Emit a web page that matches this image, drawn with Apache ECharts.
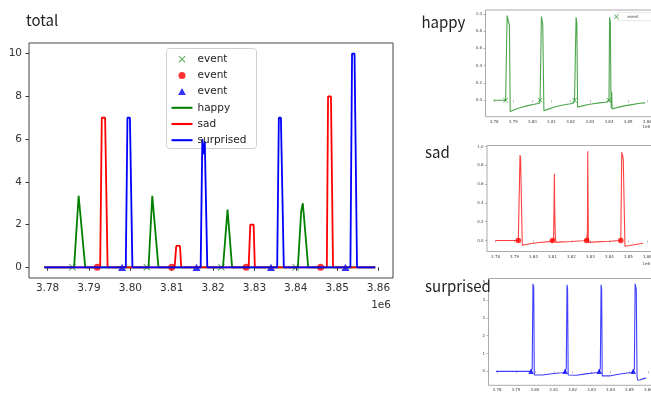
<!DOCTYPE html>
<html><head><meta charset="utf-8">
<script src="https://cdn.jsdelivr.net/npm/echarts@6/dist/echarts.min.js"></script>
<style>html,body{margin:0;padding:0;background:#fff}#c{width:651px;height:397px}</style>
</head><body><div id="c"></div>
<script>
// ---------- data ----------
const xTicks = [3.78e6, 3.79e6, 3.80e6, 3.81e6, 3.82e6, 3.83e6, 3.84e6, 3.85e6, 3.86e6];
const totalYTicks = [0, 2, 4, 6, 8, 10];
const unitYTicks = [0, 0.2, 0.4, 0.6, 0.8, 1.0];
const surprisedYTicks = [0, 1, 2, 3, 4, 5];

const happyEventX = [3.786e6, 3.804e6, 3.822e6, 3.840e6];
const sadEventX = [3.792e6, 3.810e6, 3.828e6, 3.846e6];
const surprisedEventX = [3.798e6, 3.816e6, 3.834e6, 3.852e6];
const eventY = [0, 0, 0, 0];

// total panel
const happyTotalX = [3.7792e6, 3.7864e6, 3.7875e6, 3.7879e6, 3.7891e6, 3.8044e6, 3.8053e6, 3.8057e6, 3.8068e6,
  3.8224e6, 3.8235e6, 3.8246e6, 3.8405e6, 3.8413e6, 3.8417e6, 3.8430e6, 3.8592e6];
const happyTotalY = [0, 0, 3.35, 3.35, 0, 0, 3.35, 3.3, 0, 0, 2.7, 0, 0, 2.6, 3.0, 0, 0];
const sadTotalX = [3.7792e6, 3.7927e6, 3.7931e6, 3.7939e6, 3.7945e6, 3.8107e6, 3.8111e6, 3.8120e6, 3.8123e6,
  3.8286e6, 3.8290e6, 3.8298e6, 3.8301e6, 3.8475e6, 3.8478e6, 3.8485e6, 3.8490e6, 3.8592e6];
const sadTotalY = [0, 0, 7, 7, 0, 0, 1, 1, 0, 0, 2, 2, 0, 0, 8, 8, 0, 0];
const surprisedTotalX = [3.7792e6, 3.7989e6, 3.7993e6, 3.7999e6, 3.8005e6, 3.8170e6, 3.8174e6, 3.8177e6, 3.8180e6, 3.8186e6,
  3.8355e6, 3.8359e6, 3.8364e6, 3.8371e6, 3.8532e6, 3.8536e6, 3.8542e6, 3.8548e6, 3.8592e6];
const surprisedTotalY = [0, 0, 7, 7, 0, 0, 6, 5.3, 5.9, 0, 0, 7, 7, 0, 0, 10, 10, 0, 0];

// happy panel
const happyX = [3.7796e6, 3.7860e6, 3.7866e6, 3.7868e6, 3.7876e6, 3.7880e6, 3.7884e6,
  3.7900e6, 3.7930e6, 3.7970e6, 3.8010e6, 3.8036e6, 3.8040e6, 3.8045e6, 3.8047e6, 3.8054e6, 3.8060e6,
  3.8080e6, 3.8120e6, 3.8160e6, 3.8200e6, 3.8216e6, 3.8220e6, 3.8224e6, 3.8228e6, 3.8232e6, 3.8236e6,
  3.8260e6, 3.8300e6, 3.8350e6, 3.8388e6, 3.8400e6, 3.8401e6, 3.8403e6, 3.8407e6, 3.8410e6, 3.8412e6, 3.8414e6, 3.8416e6,
  3.8440e6, 3.8480e6, 3.8520e6, 3.8560e6, 3.8589e6];
const happyY = [0, 0, 0.02, 0.98, 0.90, 0.87, -0.13,
  -0.115, -0.09, -0.065, -0.045, -0.035, 0.0, 0.02, 0.97, 0.88, -0.12,
  -0.105, -0.075, -0.055, -0.04, -0.03, 0.0, 0.02, 0.96, 0.90, -0.08,
  -0.065, -0.045, -0.03, -0.02, 0.0, 0.02, 0.96, 0.90, 0.10, -0.09, 0.10, -0.10,
  -0.085, -0.065, -0.05, -0.035, -0.03];

// sad panel
const sadX = [3.7799e6, 3.7920e6, 3.7926e6, 3.7929e6, 3.7932e6, 3.7934e6, 3.7941e6,
  3.7980e6, 3.8030e6, 3.8080e6, 3.8098e6, 3.8100e6, 3.8106e6, 3.8108e6, 3.8110e6, 3.8112e6, 3.8115e6, 3.8117e6,
  3.8150e6, 3.8200e6, 3.8260e6, 3.8280e6, 3.8283e6, 3.8284e6, 3.8286e6, 3.8289e6,
  3.8330e6, 3.8400e6, 3.8460e6, 3.8462e6, 3.8465e6, 3.8470e6, 3.8473e6, 3.8482e6,
  3.8500e6, 3.8530e6, 3.8560e6, 3.8577e6];
const sadY = [0, 0, 0.02, 0.91, 0.88, 0.87, -0.05,
  -0.035, -0.022, -0.012, -0.005, 0.0, 0.02, 0.33, 0.71, 0.30, 0.05, -0.02,
  -0.015, -0.01, -0.003, 0.0, 0.07, 0.0, 0.95, -0.02,
  -0.015, -0.008, 0.0, 0.02, 0.94, 0.90, 0.86, -0.06,
  -0.055, -0.045, -0.035, -0.03];

// surprised panel
const surprisedX = [3.7794e6, 3.7980e6, 3.7986e6, 3.7990e6, 3.7994e6, 3.7997e6, 3.8002e6,
  3.8040e6, 3.8090e6, 3.8140e6, 3.8155e6, 3.8160e6, 3.8166e6, 3.8170e6, 3.8173e6, 3.8176e6, 3.8180e6,
  3.8220e6, 3.8270e6, 3.8320e6, 3.8336e6, 3.8340e6, 3.8346e6, 3.8350e6, 3.8353e6, 3.8356e6, 3.8360e6,
  3.8400e6, 3.8450e6, 3.8500e6, 3.8515e6, 3.8520e6, 3.8526e6, 3.8530e6, 3.8536e6, 3.8540e6, 3.8544e6,
  3.8555e6, 3.8570e6, 3.8588e6];
const surprisedY = [0, 0, 0.15, 4.9, 4.7, -0.2, -0.27,
  -0.2, -0.13, -0.08, -0.06, 0.0, 0.15, 4.85, 4.6, -0.2, -0.3,
  -0.22, -0.14, -0.08, -0.06, 0.0, 0.15, 4.85, 4.6, -0.25, -0.35,
  -0.25, -0.15, -0.08, -0.06, 0.0, 0.15, 4.9, 4.6, -0.3, -0.5,
  -0.48, -0.42, -0.38];

// ---------- chart ----------
const zip = (xs, ys) => xs.map((x, i) => [x, ys[i]]);
const X_PATH = 'path://M0,1L1,0L5,4L9,0L10,1L6,5L10,9L9,10L5,6L1,10L0,9L4,5Z';
const TRI_PATH = 'path://M5,0L10,9L0,9Z';
const LINE_ICON = 'path://M0,0h20v2h-20z';
const GREEN = '#008000', RED = '#ff0000', BLUE = '#0000ff';
const MONO = 'DejaVu Sans';
const TITLE_FONT = 'Noto Sans CJK JP';

function xAxis(gi, small) {
  return {
    type: 'value', gridIndex: gi, min: 3.7755e6, max: 3.8635e6,
    axisLine: { show: false },
    splitLine: { show: false },
    axisTick: { show: true, customValues: xTicks, length: small ? 2 : 3.5,
      lineStyle: { color: small ? '#888' : '#333', width: small ? 0.6 : 1 } },
    axisLabel: { customValues: xTicks, margin: small ? 3 : 5, hideOverlap: false,
      fontFamily: MONO, fontSize: small ? 4 : 10.5, color: small ? '#444' : '#333',
      formatter: v => (v / 1e6).toFixed(2) }
  };
}
function yAxis(gi, min, max, ticks, dec, small) {
  return {
    type: 'value', gridIndex: gi, min: min, max: max,
    axisLine: { show: false },
    splitLine: { show: false },
    axisTick: { show: true, customValues: ticks, length: small ? 2 : 3.5,
      lineStyle: { color: small ? '#888' : '#333', width: small ? 0.6 : 1 } },
    axisLabel: { customValues: ticks, margin: small ? 3.5 : 7,
      fontFamily: MONO, fontSize: small ? 4 : 10.5, color: small ? '#444' : '#333',
      formatter: v => v.toFixed(dec) }
  };
}
const gridBase = { show: true, backgroundColor: 'transparent', containLabel: false, outerBoundsMode: 'none' };

const titleStyle = { fontFamily: TITLE_FONT, fontSize: 15, fontWeight: 'normal', color: '#222' };

const chart = echarts.init(document.getElementById('c'), null, { renderer: 'canvas' });
chart.setOption({
  animation: false,
  backgroundColor: '#fff',
  title: [
    { text: 'total', left: 26, top: 12.8, padding: 0, textStyle: titleStyle },
    { text: 'happy', left: 421.5, top: 15.1, padding: 0, textStyle: titleStyle },
    { text: 'sad', left: 425, top: 145.1, padding: 0, textStyle: titleStyle },
    { text: 'surprised', left: 425, top: 279.1, padding: 0, textStyle: titleStyle }
  ],
  grid: [
    Object.assign({ left: 29, top: 43, width: 364, height: 235, borderColor: '#444', borderWidth: 1 }, gridBase),
    Object.assign({ left: 485.5, top: 10, width: 168.5, height: 106.7, borderColor: '#aaa', borderWidth: 1 }, gridBase),
    Object.assign({ left: 487, top: 145.5, width: 167, height: 106, borderColor: '#aaa', borderWidth: 1 }, gridBase),
    Object.assign({ left: 488.5, top: 278.5, width: 166.5, height: 106.8, borderColor: '#aaa', borderWidth: 1 }, gridBase)
  ],
  xAxis: [xAxis(0, false), xAxis(1, true), xAxis(2, true), xAxis(3, true)],
  yAxis: [
    yAxis(0, -0.5, 10.5, totalYTicks, 0, false),
    yAxis(1, -0.19, 1.045, unitYTicks, 1, true),
    yAxis(2, -0.117, 1.011, unitYTicks, 1, true),
    yAxis(3, -0.78, 5.2, surprisedYTicks, 0, true)
  ],
  legend: [
    {
      orient: 'vertical', left: 171.5, top: 53.2, padding: 0, itemWidth: 21, itemHeight: 7, itemGap: 4.2,
      selectedMode: false, z: 10, symbolKeepAspect: true,
      data: [{ name: 'event_h' }, { name: 'event_s' }, { name: 'event_u' },
        { name: 'happy', icon: LINE_ICON }, { name: 'sad', icon: LINE_ICON }, { name: 'surprised', icon: LINE_ICON }],
      formatter: n => n.indexOf('event') === 0 ? 'event' : n,
      textStyle: { fontFamily: MONO, fontSize: 10.5, color: '#222', lineHeight: 12 }
    },
    {
      orient: 'vertical', left: 614, top: 14.2, padding: 0, itemWidth: 12, itemHeight: 5,
      selectedMode: false, z: 10, symbolKeepAspect: true,
      data: [{ name: 'event_h' }],
      formatter: () => 'event',
      textStyle: { fontFamily: MONO, fontSize: 4, color: '#444', lineHeight: 5 }
    }
  ],
  graphic: [
    { type: 'rect', z: 3, shape: { x: 166.5, y: 48.5, width: 90, height: 100, r: 3 },
      style: { fill: 'rgba(255,255,255,0.8)', stroke: '#d0d0d0', lineWidth: 1 } },
    { type: 'rect', z: 3, shape: { x: 617, y: 12.7, width: 40, height: 8, r: 1 },
      style: { fill: 'rgba(255,255,255,0.8)', stroke: '#d8d8d8', lineWidth: 0.6 } },
    { type: 'text', z: 5, style: { text: '1e6', x: 391, y: 300, align: 'right', font: '10.5px "DejaVu Sans"', fill: '#333' } },
    { type: 'text', z: 5, style: { text: '1e6', x: 650, y: 125, align: 'right', font: '4px "DejaVu Sans"', fill: '#444' } },
    { type: 'text', z: 5, style: { text: '1e6', x: 650, y: 262, align: 'right', font: '4px "DejaVu Sans"', fill: '#444' } }
  ],
  series: [
    // total panel markers
    { name: 'event_h', type: 'scatter', xAxisIndex: 0, yAxisIndex: 0, symbol: X_PATH, symbolSize: 7,
      symbolKeepAspect: true, itemStyle: { color: '#2b9a2b' }, data: zip(happyEventX, eventY) },
    { name: 'event_s', type: 'scatter', xAxisIndex: 0, yAxisIndex: 0, symbol: 'circle', symbolSize: 7,
      symbolKeepAspect: true, itemStyle: { color: RED }, data: zip(sadEventX, eventY) },
    { name: 'event_u', type: 'scatter', xAxisIndex: 0, yAxisIndex: 0, symbol: TRI_PATH, symbolSize: 8,
      symbolKeepAspect: true, itemStyle: { color: BLUE }, data: zip(surprisedEventX, eventY) },
    // total panel lines
    { name: 'happy', type: 'line', xAxisIndex: 0, yAxisIndex: 0, symbol: 'none', showSymbol: false,
      lineStyle: { color: GREEN, width: 1.8 }, itemStyle: { color: GREEN }, data: zip(happyTotalX, happyTotalY) },
    { name: 'sad', type: 'line', xAxisIndex: 0, yAxisIndex: 0, symbol: 'none', showSymbol: false,
      lineStyle: { color: RED, width: 1.8 }, itemStyle: { color: RED }, data: zip(sadTotalX, sadTotalY) },
    { name: 'surprised', type: 'line', xAxisIndex: 0, yAxisIndex: 0, symbol: 'none', showSymbol: false,
      lineStyle: { color: BLUE, width: 1.8 }, itemStyle: { color: BLUE }, data: zip(surprisedTotalX, surprisedTotalY) },
    // happy panel
    { name: 'event_h', type: 'scatter', xAxisIndex: 1, yAxisIndex: 1, symbol: X_PATH, symbolSize: 5,
      itemStyle: { color: '#2b9a2b', opacity: 0.8 }, data: zip(happyEventX, eventY) },
    { name: 'happy_panel', type: 'line', xAxisIndex: 1, yAxisIndex: 1, symbol: 'none', showSymbol: false,
      lineStyle: { color: GREEN, width: 1.1, opacity: 0.7 }, data: zip(happyX, happyY) },
    // sad panel
    { name: 'sad_panel', type: 'line', xAxisIndex: 2, yAxisIndex: 2, symbol: 'none', showSymbol: false,
      lineStyle: { color: RED, width: 1.1, opacity: 0.75 }, data: zip(sadX, sadY) },
    { name: 'event_s2', type: 'scatter', xAxisIndex: 2, yAxisIndex: 2, symbol: 'circle', symbolSize: 5.5,
      itemStyle: { color: RED }, data: zip(sadEventX, eventY) },
    // surprised panel
    { name: 'surprised_panel', type: 'line', xAxisIndex: 3, yAxisIndex: 3, symbol: 'none', showSymbol: false,
      lineStyle: { color: BLUE, width: 1.1, opacity: 0.75 }, data: zip(surprisedX, surprisedY) },
    { name: 'event_u2', type: 'scatter', xAxisIndex: 3, yAxisIndex: 3, symbol: TRI_PATH, symbolSize: 5.5,
      itemStyle: { color: BLUE }, data: zip(surprisedEventX, eventY) }
  ]
});
</script>
</body></html>
